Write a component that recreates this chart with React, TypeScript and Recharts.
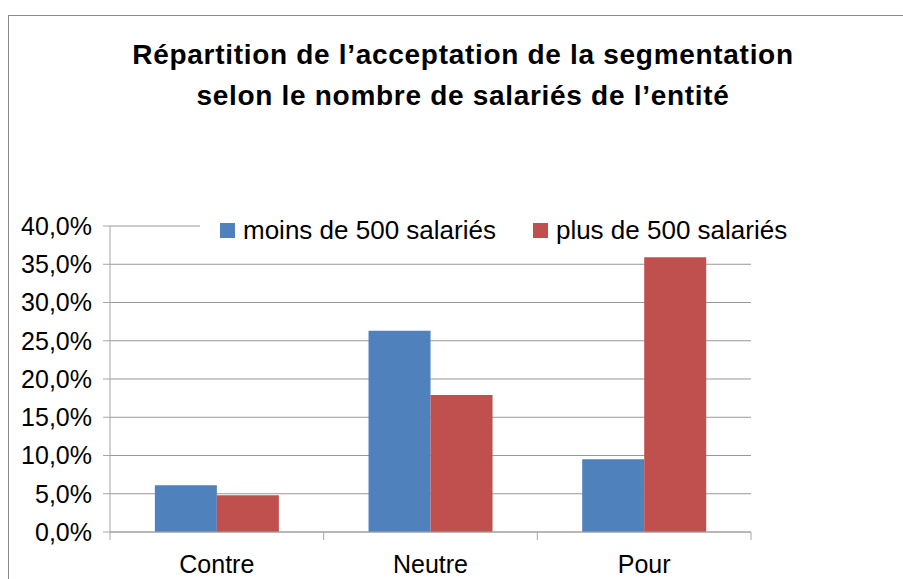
import React from 'react';
import { BarChart, Bar, XAxis, YAxis, CartesianGrid, Legend } from 'recharts';

const categories = ['Contre', 'Neutre', 'Pour'];
const moins500 = [6.1, 26.3, 9.5];
const plus500 = [4.8, 17.9, 35.9];
const yTicks = [0, 5, 10, 15, 20, 25, 30, 35, 40];
const seriesNames = ['moins de 500 salariés', 'plus de 500 salariés'];
const titleLines = [
  'Répartition de l\u2019acceptation de la segmentation',
  'selon le nombre de salariés de l\u2019entité',
];

const data = categories.map((cat, i) => ({ cat, moins: moins500[i], plus: plus500[i] }));

const FONT = '"Liberation Sans", Arial, sans-serif';
const BLUE = '#4F81BD';
const RED = '#C0504D';
const AXIS = '#a6a6a6';
const GRID = '#989898';

const W = 894;
const H = 563;
const M = { top: 210, right: 152, bottom: 0, left: 0 };
const BAND = (W - M.left - M.right - 101) / categories.length;

const fmt = (v: number) => v.toFixed(1).replace('.', ',') + '%';

const CategoryTick = (props: any) => {
  const { x, y, payload, index } = props;
  const half = BAND / 2;
  return (
    <g>
      {index === 0 && <line x1={x - half} x2={x - half} y1={y} y2={y + 8} stroke={AXIS} />}
      <line x1={x + half} x2={x + half} y1={y} y2={y + 8} stroke={AXIS} />
      <text x={x} y={y + 32} textAnchor="middle" dominantBaseline="central" fontSize={25} fill="#000" fontFamily={FONT}>
        {payload.value}
      </text>
    </g>
  );
};

const LegendBox = () => (
  <div style={{ display: 'flex', alignItems: 'center', height: 26, background: '#fff', padding: '0 12px 0 20px', fontFamily: FONT, fontSize: 26, color: '#000', whiteSpace: 'nowrap' }}>
    {[BLUE, RED].map((c, i) => (
      <span key={i} style={{ display: 'flex', alignItems: 'center', marginLeft: i ? 37 : 0 }}>
        <span style={{ display: 'inline-block', width: 15, height: 15, background: c, marginRight: 8 }} />
        {seriesNames[i]}
      </span>
    ))}
  </div>
);

export default function App() {
  return (
    <div style={{ position: 'fixed', left: 0, top: 0, width: 903, height: 579, overflow: 'hidden', background: '#fff' }}>
      <div style={{ position: 'absolute', left: 8, top: 15, width: 895, height: 564, boxSizing: 'border-box', borderTop: '1px solid #8a8a8a', borderLeft: '1px solid #8a8a8a', overflow: 'hidden' }}>
        {titleLines.map((t, i) => (
          <div key={i} style={{ position: 'absolute', left: 4, top: 18 + i * 41, width: 900, textAlign: 'center', fontFamily: FONT, fontWeight: 'bold', fontSize: 28, lineHeight: '41px', letterSpacing: 0.7, color: '#000' }}>
            {t}
          </div>
        ))}
        <div style={{ position: 'absolute', left: 0, top: 0 }}>
          <BarChart width={W} height={H} data={data} margin={M} barCategoryGap="21%" barGap={0}>
            <CartesianGrid vertical={false} stroke={GRID} />
            <XAxis dataKey="cat" height={47} tickSize={0} tickMargin={0} tickLine={false} axisLine={{ stroke: AXIS }} tick={<CategoryTick />} interval={0} />
            <YAxis width={101} domain={[0, 40]} ticks={yTicks} tickFormatter={fmt} tickSize={7} tickMargin={11} axisLine={{ stroke: AXIS }} tickLine={{ stroke: AXIS }} tick={{ fontSize: 25, fill: '#000', fontFamily: FONT }} interval={0} />
            <Legend layout="horizontal" verticalAlign="middle" align="center" content={<LegendBox />} wrapperStyle={{ left: 191, top: 201, width: 'auto' }} />
            <Bar dataKey="moins" name={seriesNames[0]} fill={BLUE} isAnimationActive={false} />
            <Bar dataKey="plus" name={seriesNames[1]} fill={RED} isAnimationActive={false} />
          </BarChart>
        </div>
      </div>
    </div>
  );
}
